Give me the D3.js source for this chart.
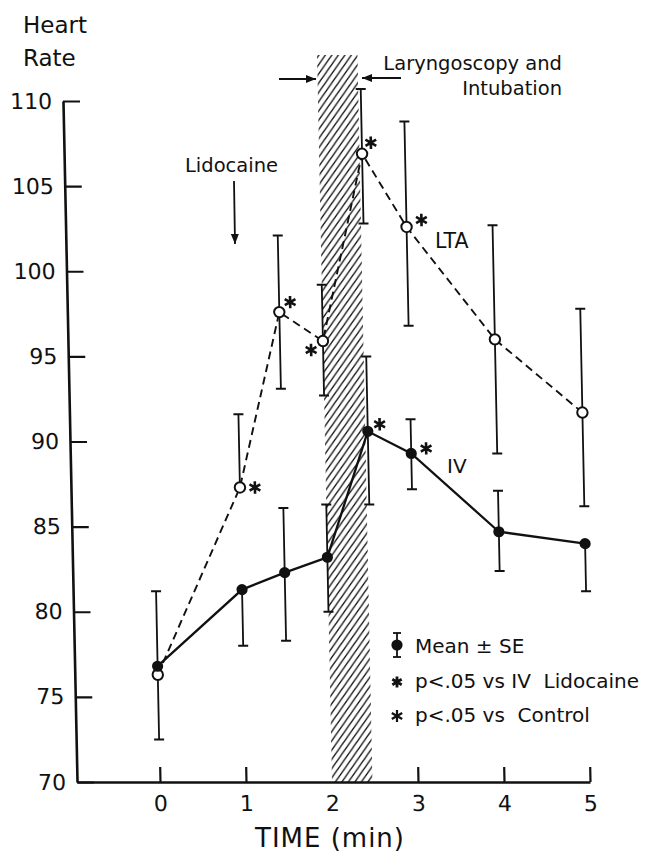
<!DOCTYPE html>
<html>
<head>
<meta charset="utf-8">
<script src="https://cdn.jsdelivr.net/npm/d3@7"></script>
<style>
  html, body { margin: 0; padding: 0; background: #fff; }
  svg { display: block; }
  text { font-family: "DejaVu Sans", sans-serif; fill: #111; }
</style>
</head>
<body>
<svg id="chart" width="657" height="856"></svg>
<script>
// ---------------- data ----------------
const times    = [0, 1, 1.5, 2, 2.5, 3, 4, 5];
const ltaMean  = [76.3, 87.3, 97.6, 95.9, 106.9, 102.6, 96.0, 91.7];
const ltaHi    = [81.2, 91.6, 102.1, 99.2, 110.7, 108.8, 102.7, 97.8];
const ltaLo    = [72.5, null, 93.1, 92.7, 102.8, 96.8, 89.3, 86.2];
const ivMean   = [76.8, 81.3, 82.3, 83.2, 90.6, 89.3, 84.7, 84.0];
const ivHi     = [null, null, 86.1, 86.3, 95.0, 91.3, 87.1, null];
const ivLo     = [null, 78.0, 78.3, 80.0, 86.3, 87.2, 82.4, 81.2];
const ltaStar  = [false, true, true, true, true, true, false, false];
const ivStar   = [false, false, false, false, true, true, false, false];
const yTicks   = [70, 75, 80, 85, 90, 95, 100, 105, 110];
const xTicks   = [0, 1, 2, 3, 4, 5];
const intubation = [2, 2.47];   // minutes (hatched band)
const bandTopValue = 112.7;

// ---------------- layout ----------------
const svg = d3.select("#chart");
const skew = 1.18; // the original figure is slightly sheared
const x = d3.scaleLinear().domain([-0.965, 5]).range([60.9, 573.9]);
const y = d3.scaleLinear().domain([70, 110]).range([782, 101]);

const defs = svg.append("defs");
const hw = 6.5, hh = 9;
const pat = defs.append("pattern")
  .attr("id", "hatch").attr("patternUnits", "userSpaceOnUse")
  .attr("width", hw).attr("height", hh);
pat.append("path")
  .attr("d", `M${-hw},${hh} L${hw},${-hh} M0,${2*hh} L${2*hw},0 M0,${hh} L${hw},0`)
  .attr("stroke", "#111").attr("stroke-width", 1.3);

const g = svg.append("g").attr("transform", `skewX(${skew})`);

// hatched band
g.append("rect")
  .attr("x", x(intubation[0])).attr("width", x(intubation[1]) - x(intubation[0]))
  .attr("y", y(bandTopValue)).attr("height", y(70) - y(bandTopValue))
  .attr("fill", "url(#hatch)");

// axes
const yAxis = d3.axisLeft(y).tickValues(yTicks).tickSizeInner(-17).tickSizeOuter(0).tickPadding(11);
const xAxis = d3.axisBottom(x).tickValues(xTicks).tickFormat(d3.format("d"))
  .tickSizeInner(-15).tickSizeOuter(0).tickPadding(13);

const gy = g.append("g").attr("transform", `translate(${x.range()[0]},0)`).call(yAxis);
const gx = g.append("g").attr("transform", `translate(0,${y(70)})`).call(xAxis);
[gx, gy].forEach(a => {
  a.select(".domain").attr("stroke", "#111").attr("stroke-width", 2.6);
  a.selectAll(".tick line").attr("stroke", "#111").attr("stroke-width", 2.2);
  a.selectAll(".tick text").style("font-family", "DejaVu Sans, sans-serif")
    .style("font-size", "22px").attr("fill", "#111");
});
gx.selectAll(".tick").filter(d => d === 2).select("line").remove();

// lines
const lineGen = d3.line().x(d => x(d[0])).y(d => y(d[1]));
g.append("path")
  .datum(times.map((t, i) => [t, ltaMean[i]]))
  .attr("d", lineGen).attr("fill", "none").attr("stroke", "#111")
  .attr("stroke-width", 1.9).attr("stroke-dasharray", "8,5");
g.append("path")
  .datum(times.map((t, i) => [t, ivMean[i]]))
  .attr("d", lineGen).attr("fill", "none").attr("stroke", "#111")
  .attr("stroke-width", 2.3);

// error bars
function errorBars(mean, hi, lo) {
  const cap = 5;
  times.forEach((t, i) => {
    [hi[i], lo[i]].forEach(v => {
      if (v == null) return;
      g.append("line").attr("x1", x(t)).attr("x2", x(t))
        .attr("y1", y(mean[i])).attr("y2", y(v))
        .attr("stroke", "#111").attr("stroke-width", 1.8);
      g.append("line").attr("x1", x(t) - cap).attr("x2", x(t) + cap)
        .attr("y1", y(v)).attr("y2", y(v))
        .attr("stroke", "#111").attr("stroke-width", 2);
    });
  });
}
errorBars(ltaMean, ltaHi, ltaLo);
errorBars(ivMean, ivHi, ivLo);

// points
g.selectAll("circle.lta").data(times).join("circle").attr("class", "lta")
  .attr("cx", (t) => x(t)).attr("cy", (t, i) => y(ltaMean[i])).attr("r", 5.2)
  .attr("fill", "#fff").attr("stroke", "#111").attr("stroke-width", 2);
g.selectAll("circle.iv").data(times).join("circle").attr("class", "iv")
  .attr("cx", (t) => x(t)).attr("cy", (t, i) => y(ivMean[i])).attr("r", 5.6)
  .attr("fill", "#111");

// asterisks
function star(sel, cx, cy, r, w) {
  const p = d3.path();
  for (let k = 0; k < 3; k++) {
    const a = Math.PI / 2 + k * Math.PI / 3;
    p.moveTo(cx + r * Math.cos(a), cy + r * Math.sin(a));
    p.lineTo(cx - r * Math.cos(a), cy - r * Math.sin(a));
  }
  sel.append("path").attr("d", p.toString()).attr("stroke", "#111")
    .attr("stroke-width", w || 2.6).attr("fill", "none");
}
const ltaStarOff = [null, [15, 0], [11, -10], [-12, 9], [9, -11], [15, -7], null, null];
const ivStarOff  = [null, null, null, null, [12, -7], [15, -5], null, null];
times.forEach((t, i) => {
  if (ltaStar[i]) star(g, x(t) + ltaStarOff[i][0], y(ltaMean[i]) + ltaStarOff[i][1], 6.2);
  if (ivStar[i])  star(g, x(t) + ivStarOff[i][0], y(ivMean[i]) + ivStarOff[i][1], 6.2);
});

// ---------------- annotations ----------------
const txt = (s, xx, yy, size, anchor) => svg.append("text").text(s)
  .attr("x", xx).attr("y", yy).style("font-size", size + "px")
  .attr("text-anchor", anchor || "start");

txt("Heart", 23, 33, 23);
txt("Rate", 23, 66, 23);
txt("Lidocaine", 185, 172, 19.5);
txt("Laryngoscopy and", 562, 70, 19.5, "end");
txt("Intubation", 562, 95, 19.5, "end");
txt("LTA", 435, 248, 20.5);
txt("IV", 447, 473, 20);
txt("TIME (min)", 330, 847, 26, "middle").attr("letter-spacing", 1);

// arrows
function arrow(x1, y1, x2, y2) {
  svg.append("line").attr("x1", x1).attr("y1", y1).attr("x2", x2).attr("y2", y2)
    .attr("stroke", "#111").attr("stroke-width", 1.8);
  const ang = Math.atan2(y2 - y1, x2 - x1), L = 10, W = 4;
  const bx = x2 - L * Math.cos(ang), by = y2 - L * Math.sin(ang);
  svg.append("path").attr("d",
    `M${x2},${y2} L${bx - W * Math.sin(ang)},${by + W * Math.cos(ang)} L${bx + W * Math.sin(ang)},${by - W * Math.cos(ang)} Z`)
    .attr("fill", "#111");
}
arrow(234, 181, 235, 244);
arrow(279, 79, 316, 79);
arrow(401, 78, 362, 78);

// legend
const lg = svg.append("g");
lg.append("line").attr("x1", 397).attr("x2", 397).attr("y1", 633).attr("y2", 657)
  .attr("stroke", "#111").attr("stroke-width", 1.8);
lg.append("line").attr("x1", 393).attr("x2", 401).attr("y1", 633).attr("y2", 633)
  .attr("stroke", "#111").attr("stroke-width", 1.8);
lg.append("line").attr("x1", 393).attr("x2", 401).attr("y1", 657).attr("y2", 657)
  .attr("stroke", "#111").attr("stroke-width", 1.8);
lg.append("circle").attr("cx", 397).attr("cy", 645).attr("r", 5.6).attr("fill", "#111");
txt("Mean ± SE", 415, 653, 20);
star(lg, 397, 682, 5.4, 2.8);
txt("p<.05 vs IV  Lidocaine", 415, 688, 20).style("white-space", "pre");
star(lg, 397, 716, 6, 2.2);
txt("p<.05 vs  Control", 415, 722, 20).style("white-space", "pre");
</script>
</body>
</html>
